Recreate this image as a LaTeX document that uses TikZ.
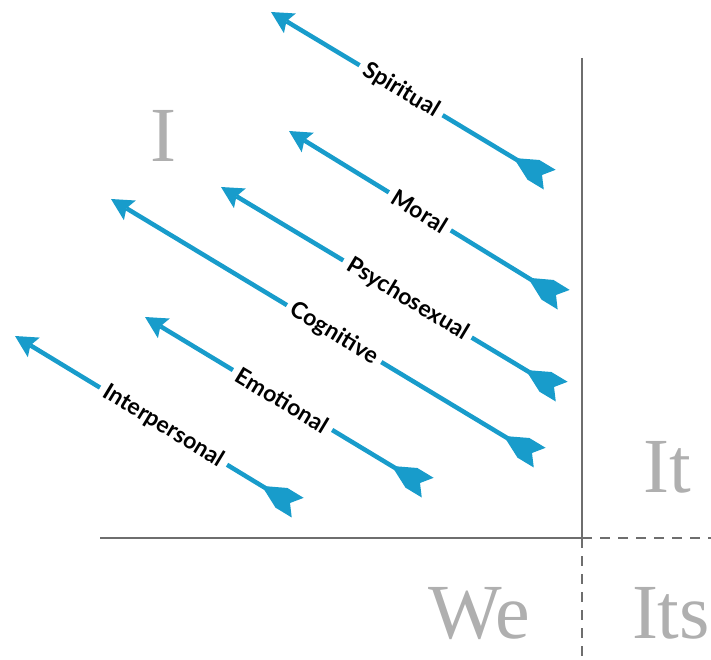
\documentclass[tikz,border=0pt]{standalone}
\usepackage{fontspec}
\setmainfont{Liberation Serif}
\newfontfamily\streamfont{Lato}
\usetikzlibrary{arrows.meta,positioning,decorations.markings}
\definecolor{streamblue}{RGB}{24,156,203}
\definecolor{axisgray}{RGB}{110,110,110}
\definecolor{quadgray}{RGB}{175,175,175}
\tikzset{%
	stream/.style     = {streamblue, line width=4.5pt, -{Stealth[length=22pt,width=23pt,inset=4pt,line width=0pt]},
		postaction={decorate}, decoration={markings, mark=at position 0pt with {\fill[streamblue] (-9pt,11.5pt) -- (10pt,11.5pt) -- (29pt,2pt) -- (29pt,-2pt) -- (10pt,-11.5pt) -- (-9pt,-11.5pt) -- (0pt,0pt) -- cycle;}}},
	streamtext/.style = {sloped, fill=white, text=black, inner sep=6pt, font=\streamfont\bfseries\fontsize{23}{23}\selectfont},
	quadtext/.style   = {quadgray, anchor=base, font=\fontsize{78}{78}\selectfont},
	axisline/.style   = {axisgray, line width=2.5pt},
}
\begin{document}
\begin{tikzpicture}[x=1pt,y=-1pt]
	\useasboundingbox (0,0) rectangle (711,660);
	% quadrant lines
	\coordinate (origin) at (582,538);
	\coordinate (top) at (582,58);
	\coordinate (left) at (100,538);
	\coordinate (right) at (711,538);
	\coordinate (bottom) at (582,660);
	\draw[axisline] (top) -- (origin) -- (left);
	\draw[axisline, dash pattern=on 10pt off 8pt] (origin) -- (right);
	\draw[axisline, dash pattern=on 10pt off 8pt] (origin) -- (bottom);
	\node[quadtext] (I) at (163,162) {I};
	\node[quadtext] (It) at (667,492) {It};
	\node[quadtext] (We) at (479,638) {We};
	\node[quadtext] (Its) at (671,638) {Its};
	% lines of development
	\coordinate (spiritual-tip) at (271,12);
	\coordinate (spiritual-tail) at (542,175);
	\coordinate (moral-tip) at (289,131);
	\coordinate (moral-tail) at (556,295);
	\coordinate (psycho-tip) at (221,187);
	\coordinate (psycho-tail) at (554,387);
	\coordinate (cognitive-tip) at (111,199);
	\coordinate (cognitive-tail) at (532,453);
	\coordinate (emotional-tip) at (145,317);
	\coordinate (emotional-tail) at (420,483);
	\coordinate (inter-tip) at (15,336);
	\coordinate (inter-tail) at (290,503);
	\draw[stream] (spiritual-tail) -- node[streamtext, pos=0.52] (spiritual) {Spiritual} (spiritual-tip);
	\draw[stream] (moral-tail) -- node[streamtext, pos=0.51] (moral) {Moral} (moral-tip);
	\draw[stream] (psycho-tail) -- node[streamtext, pos=0.44] (psycho) {Psychosexual} (psycho-tip);
	\draw[stream] (cognitive-tail) -- node[streamtext, pos=0.47] (cognitive) {Cognitive} (cognitive-tip);
	\draw[stream] (emotional-tail) -- node[streamtext, pos=0.50] (emotional) {Emotional} (emotional-tip);
	\draw[stream] (inter-tail) -- node[streamtext, pos=0.46] (inter) {Interpersonal} (inter-tip);
\end{tikzpicture}
\end{document}
